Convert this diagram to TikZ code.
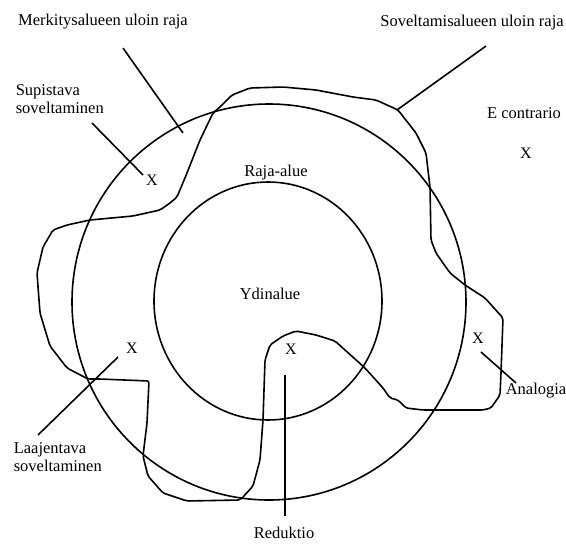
\documentclass[tikz,border=0pt]{standalone}
\usepackage{fontspec}
\setmainfont{Liberation Serif}
\begin{document}
\begin{tikzpicture}[x=1pt,y=-1pt,line width=1.6pt,
  lbl/.style={font=\fontsize{16.5}{18}\selectfont, inner sep=0pt},
  xm/.style={font=\fontsize{16}{18}\selectfont, inner sep=0pt},
  lead/.style={line width=1.6pt}]
\useasboundingbox (0,0) rectangle (566,547);
% circles
\draw (269,302) ellipse [x radius=197, y radius=198];
\draw (268,301) ellipse [x radius=114, y radius=119];
% application area boundary
\draw[rounded corners=2pt] (283,87) -- (250,88) -- (232,95) -- (220,107) -- (213,113) -- (200,140) -- (187,173) -- (177,197) -- (170,203) -- (160,210) -- (133,216) -- (90,220) -- (67,225) -- (53,230) -- (43,247) -- (37,273)
 -- (40,313) -- (50,346) -- (67,368) -- (88,379) -- (100,379) -- (149,381) -- (147,423) -- (143,456) -- (148,476) -- (163,493) -- (187,501) -- (240,500) -- (243,497) -- (253,486) -- (260,460) -- (263,420) -- (265,360) -- (270,345) -- (283,336)
 -- (296,331) -- (316,335) -- (335,341) -- (365,368) -- (383,388) -- (390,398) -- (398,400) -- (406,408) -- (423,410) -- (483,410) -- (491,408) -- (500,395) -- (501,373) -- (503,318) -- (485,298) -- (465,285) -- (450,273)
 -- (436,253) -- (431,240) -- (430,187) -- (426,153) -- (416,133) -- (398,110) -- (376,100) -- (353,97) -- (316,90) -- cycle;
% labels
\node[lbl] (merk) at (103,22) {Merkitysalueen uloin raja};
\node[lbl] (sovr) at (472,23) {Soveltamisalueen uloin raja};
\node[lbl, align=left, anchor=west] (sup) at (15,99) {Supistava\\soveltaminen};
\node[lbl] (econ) at (524,113) {E contrario};
\node[xm] (xecon) at (526,153) {X};
\node[lbl] (raja) at (276,173) {Raja-alue};
\node[lbl] (ydin) at (270,294) {Ydinalue};
\node[xm] (xsup) at (152,180) {X};
\node[xm] (xlaaj) at (132,348) {X};
\node[xm] (xred) at (291,349) {X};
\node[xm] (xana) at (478,338) {X};
\node[lbl, align=left, anchor=west] (laaj) at (13,457) {Laajentava\\soveltaminen};
\node[lbl] (red) at (284,533) {Reduktio};
\node[lbl, anchor=west] (ana) at (505,391) {Analogia};
% leader lines
\coordinate (m1) at (123,48); \coordinate (m2) at (183,133);
\draw[lead] (m1) -- (m2);
\coordinate (s1) at (92,123); \coordinate (s2) at (143,175);
\draw[lead] (s1) -- (s2);
\coordinate (r1) at (486,46); \coordinate (r2) at (397,110);
\draw[lead] (r1) -- (r2);
\coordinate (l1) at (118,357); \coordinate (l2) at (38,435);
\draw[lead] (l1) -- (l2);
\coordinate (d1) at (285,375); \coordinate (d2) at (285,516);
\draw[lead] (d1) -- (d2);
\coordinate (a1) at (481,352); \coordinate (a2) at (516,383);
\draw[lead] (a1) -- (a2);
\end{tikzpicture}
\end{document}
